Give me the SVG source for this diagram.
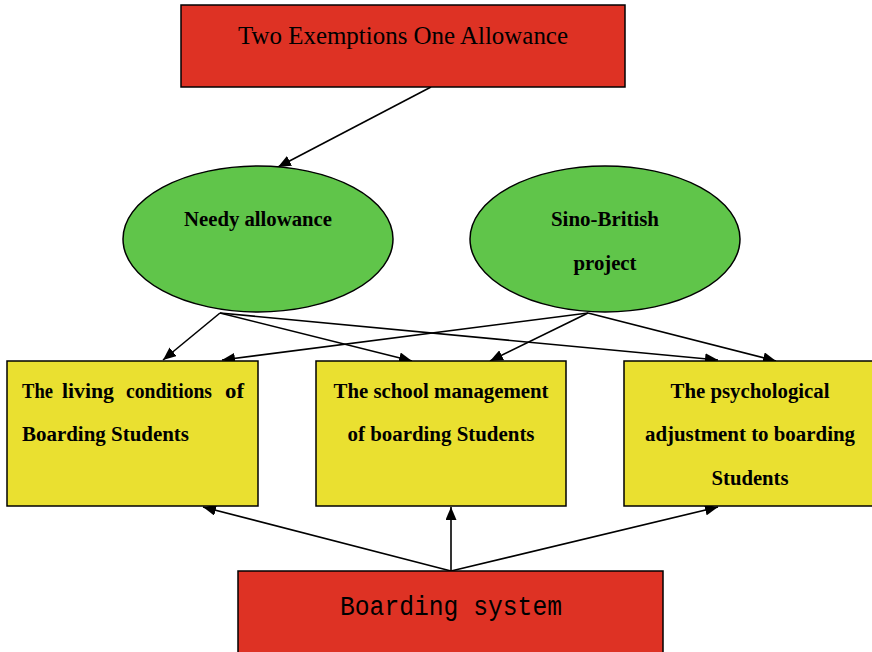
<svg xmlns="http://www.w3.org/2000/svg" width="872" height="652" viewBox="0 0 872 652">
  <defs>
    <marker id="arrow" markerWidth="13" markerHeight="11" refX="13" refY="5.5" orient="auto" markerUnits="userSpaceOnUse">
      <path d="M0,0 L13,5.5 L0,11 Z" fill="#000"/>
    </marker>
    <style>
      .red { fill: #DE3224; stroke: #000; stroke-width: 1.5; }
      .green { fill: #60C54A; stroke: #000; stroke-width: 1.5; }
      .yellow { fill: #EAE030; stroke: #000; stroke-width: 1.5; }
      .edge { stroke: #000; stroke-width: 1.6; fill: none; marker-end: url(#arrow); }
      .lbl { font-family: "Liberation Serif", "Times New Roman", serif; font-weight: bold; font-size: 20.5px; fill: #000; }
      .mid { text-anchor: middle; }
    </style>
  </defs>

  <g id="connectors">
    <line class="edge" x1="431" y1="87" x2="278" y2="167"/>
    <line class="edge" x1="220" y1="313" x2="163" y2="360"/>
    <line class="edge" x1="220" y1="313" x2="412" y2="361"/>
    <line class="edge" x1="220" y1="313" x2="718" y2="360"/>
    <line class="edge" x1="588" y1="313" x2="222" y2="360"/>
    <line class="edge" x1="588" y1="313" x2="490" y2="361"/>
    <line class="edge" x1="588" y1="313" x2="776" y2="361"/>
    <line class="edge" x1="451" y1="571" x2="203" y2="507"/>
    <line class="edge" x1="451" y1="571" x2="451" y2="507"/>
    <line class="edge" x1="451" y1="571" x2="718" y2="507"/>
  </g>

  <g id="two-exemptions">
    <rect class="red" x="181" y="5" width="444" height="82"/>
    <text x="403" y="44" text-anchor="middle" font-family="Liberation Serif, serif" font-size="25" textLength="330" lengthAdjust="spacingAndGlyphs">Two Exemptions One Allowance</text>
  </g>

  <g id="needy-allowance">
    <ellipse class="green" cx="258" cy="239" rx="135" ry="73"/>
    <text class="lbl mid" x="258" y="226" textLength="148" lengthAdjust="spacingAndGlyphs">Needy allowance</text>
  </g>

  <g id="sino-british">
    <ellipse class="green" cx="605" cy="239" rx="135" ry="73"/>
    <text class="lbl mid" x="605" y="226" textLength="108" lengthAdjust="spacingAndGlyphs">Sino-British</text>
    <text class="lbl mid" x="605" y="270" textLength="63" lengthAdjust="spacingAndGlyphs">project</text>
  </g>

  <g id="living-conditions">
    <rect class="yellow" x="7" y="361" width="251" height="145"/>
    <!-- first line is justified across the box width -->
    <text class="lbl" y="398">
      <tspan x="22" textLength="31" lengthAdjust="spacingAndGlyphs">The</tspan>
      <tspan x="62" textLength="52" lengthAdjust="spacingAndGlyphs">living</tspan>
      <tspan x="126" textLength="86" lengthAdjust="spacingAndGlyphs">conditions</tspan>
      <tspan x="225" textLength="19" lengthAdjust="spacingAndGlyphs">of</tspan>
    </text>
    <text class="lbl" x="22" y="441" textLength="167" lengthAdjust="spacingAndGlyphs">Boarding Students</text>
  </g>

  <g id="school-management">
    <rect class="yellow" x="316" y="361" width="250" height="145"/>
    <text class="lbl mid" x="441" y="398" textLength="215" lengthAdjust="spacingAndGlyphs">The school management</text>
    <text class="lbl mid" x="441" y="441" textLength="187" lengthAdjust="spacingAndGlyphs">of boarding Students</text>
  </g>

  <g id="psychological-adjustment">
    <rect class="yellow" x="624" y="361" width="252" height="145"/>
    <text class="lbl mid" x="750" y="398" textLength="159" lengthAdjust="spacingAndGlyphs">The psychological</text>
    <text class="lbl mid" x="750" y="441" textLength="210" lengthAdjust="spacingAndGlyphs">adjustment to boarding</text>
    <text class="lbl mid" x="750" y="485" textLength="77" lengthAdjust="spacingAndGlyphs">Students</text>
  </g>

  <g id="boarding-system">
    <rect class="red" x="238" y="571" width="425" height="85"/>
    <text x="451" y="615" text-anchor="middle" font-family="Liberation Mono, monospace" font-size="27" textLength="222" lengthAdjust="spacingAndGlyphs">Boarding system</text>
  </g>
</svg>
